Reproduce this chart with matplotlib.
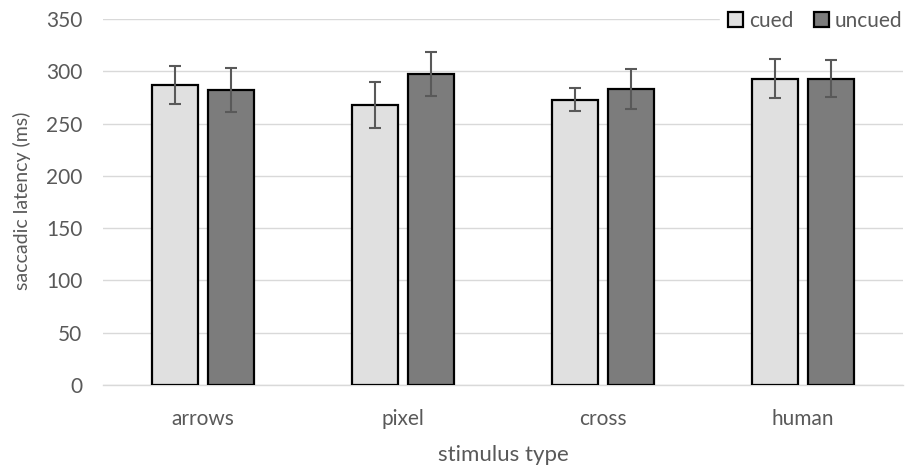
import matplotlib.pyplot as plt
import numpy as np

plt.rcParams['font.family'] = ['Lato', 'DejaVu Sans']

stimuli = ['arrows', 'pixel', 'cross', 'human']
cued = [287, 268, 273, 293]
cued_err = [18, 22, 11, 18.5]
uncued = [282, 297, 283, 293]
uncued_err = [21, 21, 19.5, 17.5]

txt = '#595959'
grid = '#d9d9d9'

fig = plt.figure(figsize=(9.07, 4.69), dpi=100)
ax = fig.add_axes([0.1136, 0.179, 0.882, 0.7805])

x = np.arange(len(stimuli))
w = 0.23
ax.bar(x - 0.14, cued, w, color='#e0e0e0', edgecolor='black', linewidth=1.6,
       label='cued', zorder=3)
ax.bar(x + 0.14, uncued, w, color='#7c7c7c', edgecolor='black', linewidth=1.6,
       label='uncued', zorder=3)
ax.errorbar(x - 0.14, cued, yerr=cued_err, fmt='none', ecolor=txt,
            elinewidth=1.5, capsize=4.3, capthick=1.5, zorder=4)
ax.errorbar(x + 0.14, uncued, yerr=uncued_err, fmt='none', ecolor=txt,
            elinewidth=1.5, capsize=4.3, capthick=1.5, zorder=4)

ax.set_xlim(-0.5, 3.5)
ax.set_ylim(0, 350)
ax.set_yticks(range(0, 351, 50))
ax.set_xticks(x)
ax.set_xticklabels(stimuli)
ax.yaxis.grid(True, color=grid, linewidth=1, zorder=0)
ax.set_axisbelow(True)
for s in ['top', 'right', 'left']:
    ax.spines[s].set_visible(False)
ax.spines['bottom'].set_color(grid)
ax.spines['bottom'].set_linewidth(1)
ax.tick_params(axis='both', length=0, labelsize=15, colors=txt)
ax.tick_params(axis='y', pad=15)
ax.tick_params(axis='x', pad=17)

ax.set_xlabel('stimulus type', fontsize=16, color=txt, labelpad=12)
ax.set_ylabel('saccadic latency (ms)', fontsize=14, color=txt, va='center')
ax.yaxis.set_label_coords(-0.101, 0.503)

leg = ax.legend(loc='upper right', ncol=2, frameon=True, fontsize=15,
                handlelength=0.7, handleheight=0.7, handletextpad=0.3,
                columnspacing=1.0, borderaxespad=0.0, bbox_to_anchor=(1.01, 1.045))
leg.get_frame().set_edgecolor('white')
leg.get_frame().set_facecolor('white')
leg.get_frame().set_alpha(1)
for t in leg.get_texts():
    t.set_color(txt)

fig.savefig('out.png', dpi=100)
